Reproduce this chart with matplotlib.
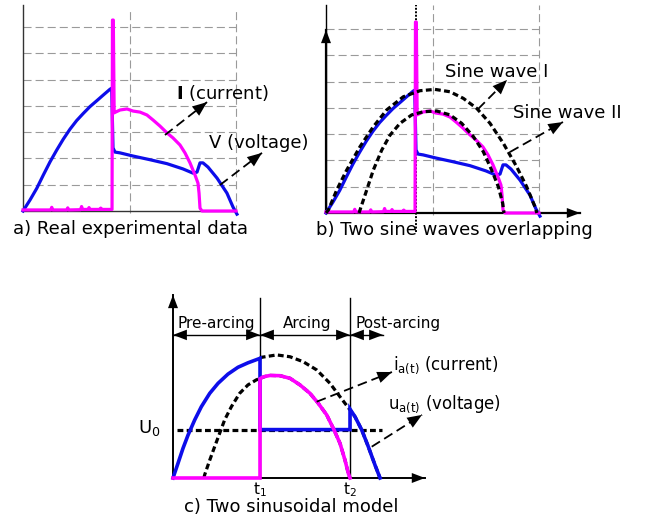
import matplotlib
matplotlib.use("Agg")
import matplotlib.pyplot as plt

plt.rcParams['font.family'] = ['DejaVu Sans']
plt.rcParams['mathtext.fontset'] = 'dejavusans'
plt.rcParams['lines.scale_dashes'] = False

# ---------------- data (grid units) ----------------
# experimental voltage (blue)
volt_t = [0, 0.066, 0.129, 0.191, 0.254, 0.317, 0.378, 0.441, 0.504, 0.566, 0.629, 0.692,
          0.754, 0.817, 0.833, 0.845, 0.864, 0.911, 1.033, 1.192, 1.352, 1.502, 1.596, 1.634,
          1.662, 1.690, 1.737, 1.822, 1.915, 1.972, 2.009]
volt_v = [0, 0.42, 0.86, 1.37, 1.87, 2.32, 2.73, 3.11, 3.44, 3.71, 3.97, 4.19,
          4.41, 4.63, 4.67, 2.40, 2.24, 2.21, 2.09, 1.95, 1.80, 1.60, 1.44, 1.48,
          1.83, 1.83, 1.67, 1.25, 0.68, 0.15, -0.12]
# experimental current (magenta)
curr_t = [0, 0.26, 0.27, 0.28, 0.41, 0.42, 0.43, 0.54, 0.55, 0.56, 0.61, 0.62, 0.63, 0.72,
          0.73, 0.74, 0.836, 0.840, 0.848, 0.856, 0.864, 0.911, 0.977, 1.033, 1.099, 1.164,
          1.221, 1.286, 1.352, 1.408, 1.474, 1.521, 1.568, 1.615, 1.643, 1.653, 1.662, 1.681, 2.0]
curr_v = [0.04, 0.04, 0.14, 0.04, 0.04, 0.12, 0.04, 0.05, 0.17, 0.06, 0.06, 0.13, 0.06, 0.06,
          0.11, 0.06, 0.06, 7.26, 7.26, 3.73, 3.75, 3.84, 3.88, 3.80, 3.76, 3.65,
          3.46, 3.23, 2.97, 2.78, 2.51, 2.21, 1.83, 1.37, 1.06, 0.68, 0.11, 0.0, 0.0]
# sine wave I (panel b)
sine1_t = [0.0, 0.022, 0.100, 0.194, 0.319, 0.444, 0.570, 0.726, 0.883, 1.023, 1.164, 1.289,
           1.415, 1.540, 1.665, 1.790, 1.884, 1.962, 1.98]
sine1_v = [0.0, 0.11, 0.87, 1.63, 2.52, 3.28, 3.92, 4.42, 4.65, 4.70, 4.61, 4.36,
           3.98, 3.41, 2.65, 1.76, 1.00, 0.24, 0.0]
# sine wave II (panel b)
sine2_t = [0.31, 0.319, 0.382, 0.444, 0.523, 0.601, 0.695, 0.805, 0.914, 1.039, 1.164, 1.274,
           1.383, 1.477, 1.556, 1.618, 1.659, 1.671]
sine2_v = [0.0, 0.11, 0.87, 1.63, 2.39, 2.96, 3.41, 3.73, 3.85, 3.88, 3.73, 3.41,
           2.91, 2.33, 1.63, 1.00, 0.37, 0.0]

# two-sinusoidal model (panel c)
t1, t2 = 0.817, 1.662
u0 = 1.84
mvolt_t = [0, 0.047, 0.094, 0.141, 0.204, 0.266, 0.345, 0.423, 0.516, 0.610, 0.704, 0.817,
           0.817, 1.662, 1.662, 1.709, 1.772, 1.834, 1.897, 1.944]
mvolt_v = [0, 0.56, 1.13, 1.63, 2.21, 2.71, 3.22, 3.60, 3.95, 4.21, 4.38, 4.55,
           1.84, 1.84, 2.62, 2.33, 1.83, 1.19, 0.49, 0.0]
mcurr_t = [0, 0.817, 0.817, 0.840, 0.864, 0.911, 1.005, 1.099, 1.192, 1.286, 1.364, 1.443,
           1.505, 1.568, 1.615, 1.646, 1.662]
mcurr_v = [0, 0, 3.77, 3.83, 3.86, 3.90, 3.89, 3.79, 3.54, 3.22, 2.84, 2.40,
           1.89, 1.32, 0.68, 0.18, 0.0]
msine1_t = [0.817, 0.833, 0.974, 1.099, 1.223, 1.349, 1.474, 1.568, 1.662, 1.709, 1.772,
            1.834, 1.897, 1.944]
msine1_v = [4.55, 4.59, 4.68, 4.61, 4.42, 4.11, 3.60, 3.09, 2.59, 2.33, 1.83,
            1.19, 0.49, 0.0]
msine2_t = [0.29, 0.298, 0.345, 0.391, 0.438, 0.485, 0.548, 0.626, 0.704, 0.782, 0.817,
            0.864, 0.911, 1.005, 1.099, 1.192, 1.286, 1.364, 1.443, 1.505, 1.568, 1.615,
            1.646, 1.662]
msine2_v = [0.0, 0.13, 0.68, 1.19, 1.70, 2.21, 2.71, 3.22, 3.54, 3.73, 3.79,
            3.86, 3.90, 3.89, 3.79, 3.54, 3.22, 2.84, 2.40, 1.89, 1.32, 0.68,
            0.18, 0.0]

grid_rows = [1, 2, 3, 4, 5, 6, 7]
grid_cols = [1, 2]

# ---------------- layout ----------------
W, H = 649, 520
SX, SY = 106.5, 26.3
BLUE = '#0d0dea'
MAG = '#ff00ff'
GRAY = '#9a9a9a'

fig = plt.figure(figsize=(W / 100, H / 100), dpi=100)


def panel(box, origin):
    l, t, r, b = box
    ox, oy = origin
    ax = fig.add_axes([l / W, 1 - b / H, (r - l) / W, (b - t) / H])
    ax.set_xlim((l - ox) / SX, (r - ox) / SX)
    ax.set_ylim((oy - b) / SY, (oy - t) / SY)
    ax.set_axis_off()
    return ax


def head(ax, start, end, hl=1.0, hw=0.4):
    ax.annotate('', xy=end, xytext=start,
                arrowprops=dict(arrowstyle=f'-|>,head_length={hl},head_width={hw}',
                                lw=0, color='black', fc='black',
                                shrinkA=0, shrinkB=0, mutation_scale=10))


def dashed_arrow(ax, start, end):
    ax.plot([start[0], end[0]], [start[1], end[1]], color='black', lw=1.3,
            ls=(0, (7, 3.6)), solid_capstyle='butt', dash_capstyle='butt')
    head(ax, start, end, hl=1.05, hw=0.42)


def solid_arrow(ax, start, end, lw=1.3, hl=0.95, hw=0.36):
    ax.plot([start[0], end[0]], [start[1], end[1]], color='black', lw=lw)
    head(ax, start, end, hl=hl, hw=hw)


def grid(ax, top):
    for r in grid_rows:
        ax.plot([0, 2], [r, r], color=GRAY, lw=0.8, ls=(0, (5.8, 2.9)))
    for c in grid_cols:
        ax.plot([c, c], [-0.08, top], color=GRAY, lw=0.8, ls=(0, (5.8, 2.9)))


FS = 13

# ---------------- panel a ----------------
axa = panel((0, 0, 320, 262), (23, 211))
grid(axa, 7.64)
axa.plot([0, 0], [0, 7.83], color='#333333', lw=1.0)
axa.plot([0, 2], [0, 0], color='#333333', lw=1.0)
axa.plot(volt_t, volt_v, color=BLUE, lw=2.3, solid_joinstyle='round')
axa.plot(curr_t, curr_v, color=MAG, lw=2.3, solid_joinstyle='round')
axa.text(1.873, 4.47, r'$\mathbf{I}$ (current)', fontsize=FS, ha='center', va='center')
axa.text(2.216, 2.57, 'V (voltage)', fontsize=FS, ha='center', va='center')
dashed_arrow(axa, (1.333, 2.89), (1.728, 4.14))
dashed_arrow(axa, (1.85, 0.99), (2.244, 2.21))
axa.text(1.005, -0.68, 'a) Real experimental data', fontsize=FS, ha='center', va='center')

# ---------------- panel b ----------------
axb = panel((300, 0, 649, 262), (326, 213))
grid(axb, 7.91)
axb.plot([0, 0], [0, 7.91], color='black', lw=1.0)
solid_arrow(axb, (0, 0), (0, 6.96), lw=1.6)
solid_arrow(axb, (0, 0), (2.385, 0), lw=1.6)
axb.plot([0.845, 0.845], [-0.72, 7.91], color='black', lw=1.4, ls=(0, (1.4, 1.1)))
axb.plot(volt_t, volt_v, color=BLUE, lw=2.3, solid_joinstyle='round')
axb.plot(curr_t, curr_v, color=MAG, lw=2.3, solid_joinstyle='round')
axb.plot(sine1_t, sine1_v, color='black', lw=2.3, ls=(0, (4.2, 2.4)))
axb.plot(sine2_t, sine2_v, color='black', lw=2.3, ls=(0, (4.2, 2.4)))
axb.text(1.601, 5.38, 'Sine wave I', fontsize=FS, ha='center', va='center')
axb.text(2.263, 3.82, 'Sine wave II', fontsize=FS, ha='center', va='center')
dashed_arrow(axb, (1.427, 3.95), (1.700, 5.06))
dashed_arrow(axb, (1.728, 2.32), (2.225, 3.46))
axb.text(1.202, -0.65, 'b) Two sine waves overlapping', fontsize=FS, ha='center', va='center')

# ---------------- panel c ----------------
axc = panel((100, 272, 560, 520), (173, 478))
solid_arrow(axc, (0, 0), (0, 6.96), lw=1.4)
solid_arrow(axc, (0, 0), (2.366, 0), lw=1.4)
for tt in (t1, t2):
    axc.plot([tt, tt], [0, 6.84], color='black', lw=1.0)
axc.plot([0.035, 1.96], [u0, u0], color='black', lw=2.3, ls=(0, (4.2, 2.4)))
axc.plot(msine1_t, msine1_v, color='black', lw=2.3, ls=(0, (4.2, 2.4)))
axc.plot(msine2_t, msine2_v, color='black', lw=2.3, ls=(0, (4.2, 2.4)))
axc.plot(mvolt_t, mvolt_v, color=BLUE, lw=2.6, solid_joinstyle='miter')
axc.plot(mcurr_t, mcurr_v, color=MAG, lw=2.6, solid_joinstyle='miter')

# phase arrows
for a0, a1 in ((0, t1), (t1, t2), (t2, 1.972)):
    axc.plot([a0, a1], [5.44, 5.44], color='black', lw=1.0)
    mid = (a0 + a1) / 2
    head(axc, (mid, 5.44), (a0, 5.44), hl=1.0, hw=0.38)
    head(axc, (mid, 5.44), (a1, 5.44), hl=1.0, hw=0.38)
axc.text(0.404, 5.89, 'Pre-arcing', fontsize=11, ha='center', va='center')
axc.text(1.263, 5.89, 'Arcing', fontsize=11, ha='center', va='center')
axc.text(2.117, 5.89, 'Post-arcing', fontsize=11, ha='center', va='center')

axc.text(2.066, 4.30, r'i$_{\mathrm{a(t)}}$ (current)', fontsize=12, ha='left', va='center')
axc.text(2.019, 2.81, r'u$_{\mathrm{a(t)}}$ (voltage)', fontsize=12, ha='left', va='center')
dashed_arrow(axc, (1.349, 2.90), (2.056, 4.03))
dashed_arrow(axc, (1.866, 1.19), (2.338, 2.40))

axc.text(-0.113, 1.90, r'U$_{\mathrm{0}}$', fontsize=13, ha='right', va='center')
axc.text(t1, -0.44, r't$_{\mathrm{1}}$', fontsize=11, ha='center', va='center')
axc.text(t2, -0.44, r't$_{\mathrm{2}}$', fontsize=11, ha='center', va='center')
axc.text(1.113, -1.12, 'c) Two sinusoidal model', fontsize=FS, ha='center', va='center')

fig.savefig('out.png', dpi=100)
